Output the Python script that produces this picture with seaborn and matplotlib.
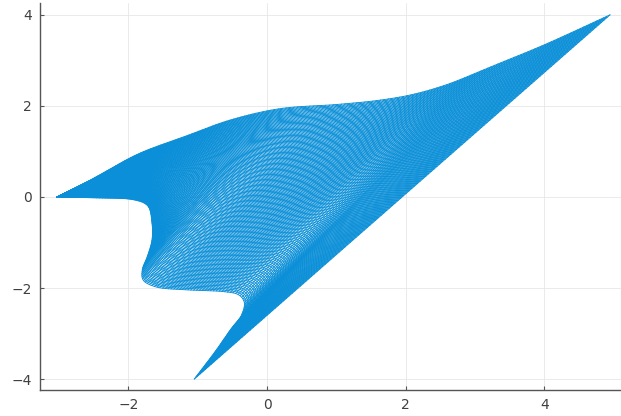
import numpy as np
import pandas as pd
import matplotlib
matplotlib.use("Agg")
import matplotlib.pyplot as plt
import seaborn as sns

# Lower-left boundary curve (from the left tip down to the bottom tip)
lower_x = [-3.03, -2.50, -1.93, -1.73, -1.66, -1.66, -1.73, -1.80, -1.78, -1.59, -1.15, -0.62,
           -0.42, -0.33, -0.37, -0.52, -0.75, -1.05]
lower_y = [0.00, -0.02, -0.06, -0.18, -0.57, -0.95, -1.32, -1.60, -1.84, -1.98, -2.04, -2.08,
           -2.14, -2.30, -2.60, -2.90, -3.40, -4.00]

# Upper boundary curve (from the left tip up to the top-right tip)
upper_x = [-3.03, -2.55, -1.85, -1.20, -0.53, 0.19, 1.00, 1.60, 2.10, 2.60, 3.20, 4.00, 4.95]
upper_y = [0.00, 0.37, 0.95, 1.32, 1.69, 1.94, 2.03, 2.12, 2.25, 2.47, 2.84, 3.34, 4.00]

x_ticks = [-2, 0, 2, 4]
y_ticks = [-4, -2, 0, 2, 4]

N_RULINGS = 160   # straight segments joining the two boundary curves
N_STEPS = 150     # curves swept between the two boundaries


def centripetal_spline(xs, ys, per_seg=40, alpha=0.5):
    p = np.column_stack([xs, ys]).astype(float)
    p = np.vstack([2 * p[0] - p[1], p, 2 * p[-1] - p[-2]])
    out = []
    for i in range(1, len(p) - 2):
        p0, p1, p2, p3 = p[i - 1], p[i], p[i + 1], p[i + 2]
        t0 = 0.0
        t1 = t0 + np.linalg.norm(p1 - p0) ** alpha
        t2 = t1 + np.linalg.norm(p2 - p1) ** alpha
        t3 = t2 + np.linalg.norm(p3 - p2) ** alpha
        t = np.linspace(t1, t2, per_seg, endpoint=False)[:, None]
        a1 = (t1 - t) / (t1 - t0) * p0 + (t - t0) / (t1 - t0) * p1
        a2 = (t2 - t) / (t2 - t1) * p1 + (t - t1) / (t2 - t1) * p2
        a3 = (t3 - t) / (t3 - t2) * p2 + (t - t2) / (t3 - t2) * p3
        b1 = (t2 - t) / (t2 - t0) * a1 + (t - t0) / (t2 - t0) * a2
        b2 = (t3 - t) / (t3 - t1) * a2 + (t - t1) / (t3 - t1) * a3
        out.append((t2 - t) / (t2 - t1) * b1 + (t - t1) / (t2 - t1) * b2)
    out.append(p[-2][None, :])
    return np.vstack(out)


def resample(curve, n):
    d = np.r_[0, np.cumsum(np.hypot(*np.diff(curve, axis=0).T))]
    s = np.linspace(0, d[-1], n)
    return np.column_stack([np.interp(s, d, curve[:, 0]), np.interp(s, d, curve[:, 1])])


lower = resample(centripetal_spline(lower_x, lower_y), N_RULINGS)
upper = resample(centripetal_spline(upper_x, upper_y), N_RULINGS)

rows = []
line_id = 0
# rulings: straight segments lower(u) -> upper(u)
for i in range(N_RULINGS):
    rows.append((line_id, lower[i, 0], lower[i, 1]))
    rows.append((line_id, upper[i, 0], upper[i, 1]))
    line_id += 1
# sweep curves: (1-v)*lower + v*upper
for v in np.linspace(0, 1, N_STEPS):
    c = (1 - v) * lower + v * upper
    for px, py in c:
        rows.append((line_id, px, py))
    line_id += 1

df = pd.DataFrame(rows, columns=["line", "x", "y"])

sns.set_theme(style="white")
fig = plt.figure(figsize=(6.21, 4.16), dpi=100)
ax = fig.add_axes([40 / 621, 26 / 416, 581 / 621, 387 / 416])

sns.lineplot(data=df, x="x", y="y", units="line", estimator=None, sort=False,
             color="#0a8fd8", linewidth=0.65, legend=False, ax=ax)

ax.set_xlim(-3.276, 5.108)
ax.set_ylim(-4.24, 4.26)
ax.set_xticks(x_ticks)
ax.set_yticks(y_ticks)
ax.set_xticklabels([f"{t}".replace("-", "\u2212") for t in x_ticks])
ax.set_yticklabels([f"{t}".replace("-", "\u2212") for t in y_ticks])
ax.set_xlabel("")
ax.set_ylabel("")
ax.grid(True, color="#e6e6e6", linewidth=0.6)
ax.set_axisbelow(True)
for side in ["top", "right"]:
    ax.spines[side].set_visible(False)
for side in ["left", "bottom"]:
    ax.spines[side].set_color("#555555")
    ax.spines[side].set_linewidth(1.0)
ax.tick_params(direction="in", length=3, width=0.8, color="#555555",
               labelsize=10, labelcolor="#404040", pad=6,
               left=True, bottom=True)

fig.savefig("out.png", dpi=100)
